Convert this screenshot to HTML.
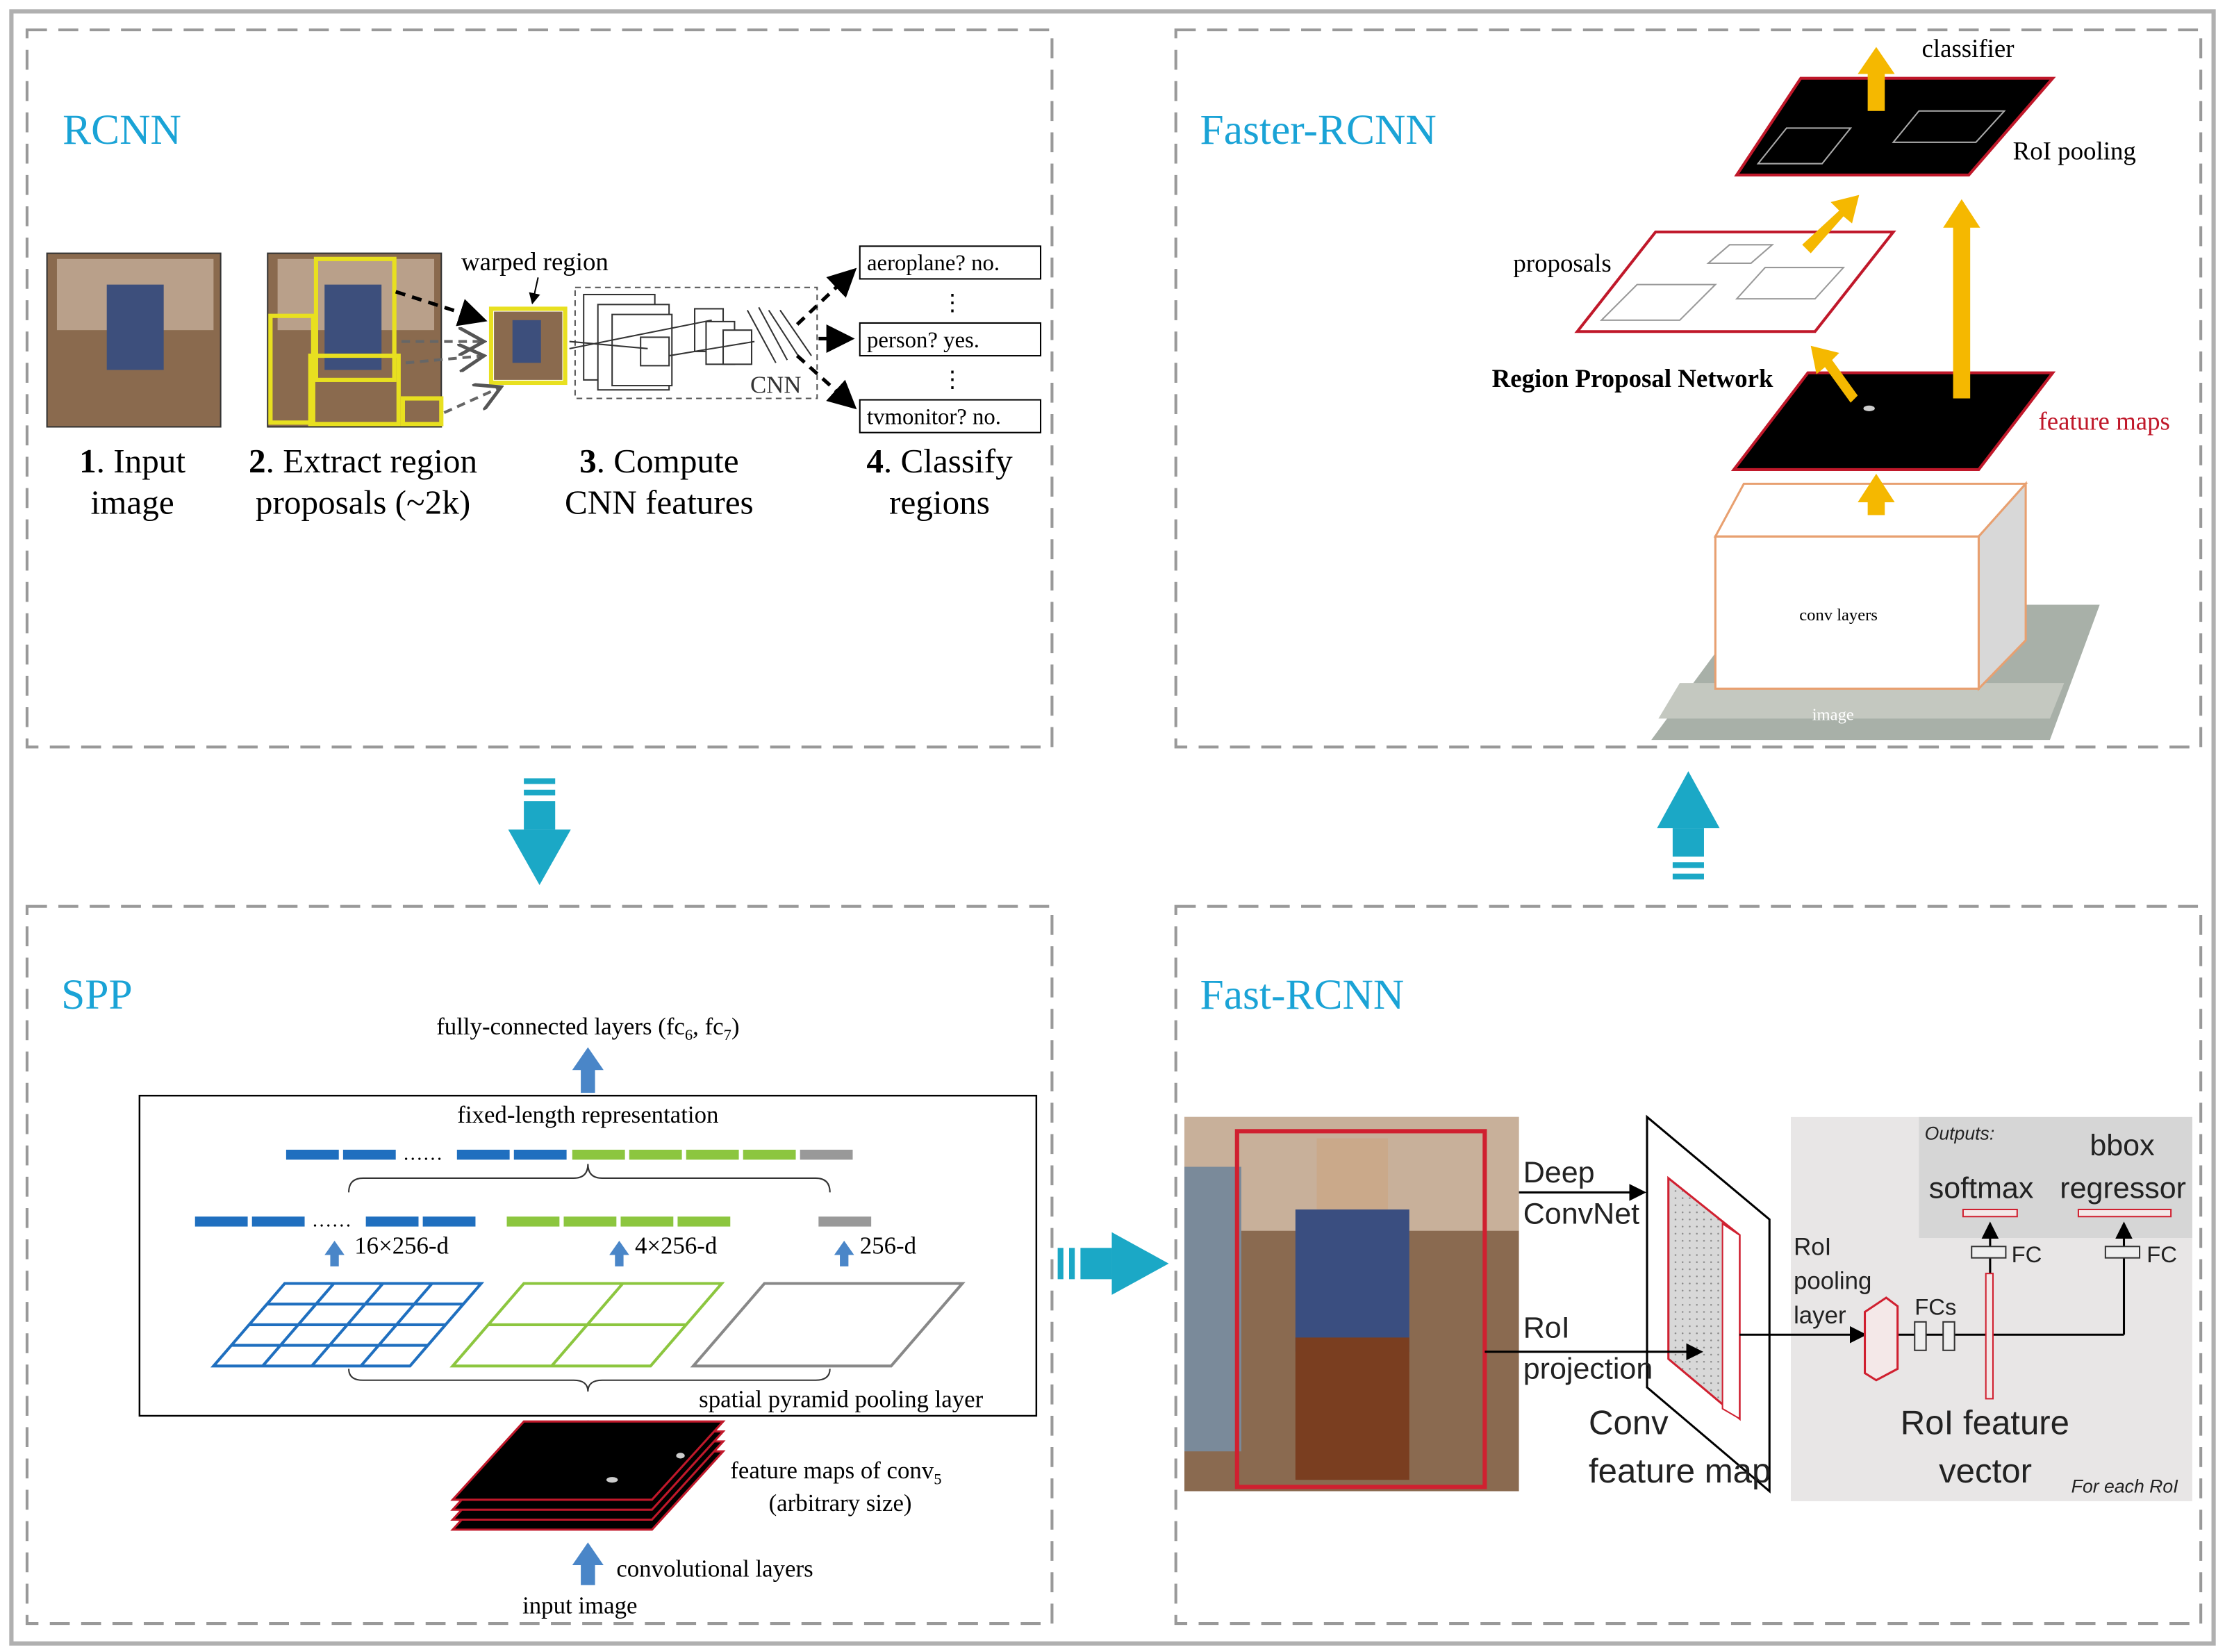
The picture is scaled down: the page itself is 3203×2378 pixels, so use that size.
<!DOCTYPE html>
<html><head><meta charset="utf-8"><style>
html,body{margin:0;padding:0;background:#fff}
svg{display:block}
text{font-family:"Liberation Serif",serif}
.s text{font-family:"Liberation Sans",sans-serif}
</style></head><body>
<svg width="3203" height="2378" viewBox="0 0 1563 1161" preserveAspectRatio="none" xmlns="http://www.w3.org/2000/svg">
<defs>
<marker id="ah" markerWidth="8" markerHeight="8" refX="7" refY="4" orient="auto"><path d="M0,0 L8,4 L0,8 z" fill="#000"/></marker>
<marker id="ao" markerWidth="10" markerHeight="10" refX="9" refY="5" orient="auto"><path d="M0,0 L9,5 L0,10" fill="none" stroke="#555" stroke-width="1.2"/></marker>
<pattern id="dots" width="5" height="5" patternUnits="userSpaceOnUse"><rect width="5" height="5" fill="#d8d8d8"/><circle cx="2" cy="2" r="0.6" fill="#888"/></pattern>
</defs>
<rect x="0" y="0" width="1563" height="1161" fill="#fff"/>
<rect x="8" y="8" width="1547" height="1147" fill="none" stroke="#b0b0b0" stroke-width="3"/>
<g fill="none" stroke="#999" stroke-width="2" stroke-dasharray="14,8">
<rect x="19" y="21" width="720" height="504"/>
<rect x="826" y="21" width="720" height="504"/>
<rect x="19" y="637" width="720" height="504"/>
<rect x="826" y="637" width="720" height="504"/>
</g>
<g fill="#1aa3d6" font-size="30">
<text x="44" y="101">RCNN</text>
<text x="843" y="101">Faster-RCNN</text>
<text x="43" y="709">SPP</text>
<text x="843" y="709">Fast-RCNN</text>
</g>
<g fill="#1ba8c6">
<rect x="368" y="547" width="22" height="4"/><rect x="368" y="555" width="22" height="4"/><rect x="368" y="563" width="22" height="20"/>
<path d="M357,583 L401,583 L379,622 z"/>
<path d="M1164,582 L1208,582 L1186,542 z"/>
<rect x="1175" y="582" width="22" height="20"/><rect x="1175" y="606" width="22" height="4"/><rect x="1175" y="614" width="22" height="4"/>
<rect x="743" y="877" width="4" height="22"/><rect x="751" y="877" width="4" height="22"/><rect x="759" y="877" width="22" height="22"/>
<path d="M781,866 L781,910 L821,888 z"/>
</g>
<!-- RCNN -->
<rect x="33" y="178" width="122" height="122" fill="#8a6a4e" stroke="#333"/>
<rect x="40" y="182" width="110" height="50" fill="#b9a08a"/>
<rect x="75" y="200" width="40" height="60" fill="#3d4f7c"/>
<rect x="188" y="178" width="122" height="122" fill="#8a6a4e" stroke="#333"/>
<rect x="195" y="182" width="110" height="50" fill="#b9a08a"/>
<rect x="228" y="200" width="40" height="60" fill="#3d4f7c"/>
<g fill="none" stroke="#e8e020" stroke-width="3">
<rect x="222" y="182" width="55" height="85"/><rect x="190" y="222" width="30" height="75"/><rect x="218" y="250" width="62" height="48"/><rect x="283" y="280" width="27" height="18"/>
<rect x="345" y="217" width="52" height="52"/>
</g>
<rect x="347" y="219" width="48" height="48" fill="#8a6a4e"/>
<rect x="360" y="225" width="20" height="30" fill="#3d4f7c"/>
<text x="324" y="190" font-size="18">warped region</text>
<line x1="378" y1="195" x2="374" y2="213" stroke="#000" marker-end="url(#ah)"/>
<g stroke="#000" stroke-width="2.5" stroke-dasharray="7,5" fill="none">
<line x1="278" y1="205" x2="340" y2="225" marker-end="url(#ah)"/>
</g>
<g stroke="#666" stroke-width="2" stroke-dasharray="6,4" fill="none">
<line x1="282" y1="240" x2="340" y2="240" marker-end="url(#ao)"/>
<line x1="285" y1="255" x2="340" y2="250" marker-end="url(#ao)"/>
<line x1="312" y1="290" x2="352" y2="272" marker-end="url(#ao)"/>
</g>
<rect x="404" y="202" width="170" height="78" fill="none" stroke="#555" stroke-dasharray="4,3"/>
<g fill="#fff" stroke="#333">
<rect x="410" y="207" width="50" height="60"/><rect x="420" y="214" width="50" height="60"/><rect x="430" y="221" width="42" height="50"/>
<rect x="450" y="237" width="20" height="20"/><rect x="488" y="217" width="20" height="30"/><rect x="496" y="226" width="20" height="30"/><rect x="508" y="232" width="20" height="24"/>
</g>
<g stroke="#333" fill="none"><path d="M525,218 L545,255 M533,216 L553,253 M540,218 L562,252 M548,218 L570,250"/>
<path d="M400,240 L455,245 M400,245 L500,225 M470,250 L530,240"/></g>
<text x="527" y="276" font-size="17" fill="#333">CNN</text>
<g stroke="#000" stroke-width="2.5" stroke-dasharray="7,5" fill="none">
<line x1="560" y1="228" x2="600" y2="190" marker-end="url(#ah)"/>
<line x1="575" y1="238" x2="598" y2="238" marker-end="url(#ah)"/>
<line x1="560" y1="250" x2="600" y2="286" marker-end="url(#ah)"/>
</g>
<g fill="#fff" stroke="#000"><rect x="604" y="173" width="127" height="23"/><rect x="604" y="227" width="127" height="23"/><rect x="604" y="281" width="127" height="23"/></g>
<g font-size="16"><text x="609" y="190">aeroplane? no.</text><text x="609" y="244">person? yes.</text><text x="609" y="298">tvmonitor? no.</text>
<text x="661" y="218">⋮</text><text x="661" y="272">⋮</text></g>
<g font-size="24" text-anchor="middle">
<text x="93" y="332"><tspan font-weight="bold">1</tspan>. Input</text><text x="93" y="361">image</text>
<text x="255" y="332"><tspan font-weight="bold">2</tspan>. Extract region</text><text x="255" y="361">proposals (~2k)</text>
<text x="463" y="332"><tspan font-weight="bold">3</tspan>. Compute</text><text x="463" y="361">CNN features</text>
<text x="660" y="332"><tspan font-weight="bold">4</tspan>. Classify</text><text x="660" y="361">regions</text>
</g>
<!-- Faster RCNN -->
<path d="M1160,520 L1440,520 L1475,425 L1230,425 z" fill="#a8b0a8"/>
<path d="M1165,505 L1440,505 L1450,480 L1180,480 z" fill="#c4c8c0"/>
<text x="1273" y="506" font-size="12" fill="#fff">image</text>
<path d="M1205,377 L1390,377 L1390,484 L1205,484 z" fill="#fff" stroke="#e8a070" stroke-width="1.5"/>
<path d="M1205,377 L1225,340 L1423,340 L1390,377 z" fill="#fff" stroke="#e8a070" stroke-width="1.5"/>
<path d="M1390,377 L1423,340 L1423,450 L1390,484 z" fill="#d8d8d8" stroke="#e8a070" stroke-width="1.5"/>
<text x="1264" y="436" font-size="12">conv layers</text>
<path d="M1218,330 L1270,262 L1442,262 L1390,330 z" fill="#000" stroke="#c0182a" stroke-width="2"/>
<ellipse cx="1313" cy="287" rx="4" ry="2" fill="#ccc"/>
<path d="M1108,233 L1163,163 L1330,163 L1275,233 z" fill="#fff" stroke="#c0182a" stroke-width="2"/>
<g fill="none" stroke="#999"><path d="M1125,225 L1150,200 L1205,200 L1180,225 z M1200,185 L1215,172 L1245,172 L1230,185 z M1220,210 L1240,188 L1295,188 L1275,210 z"/></g>
<path d="M1220,123 L1265,55 L1442,55 L1383,123 z" fill="#000" stroke="#c0182a" stroke-width="2"/>
<g fill="none" stroke="#aaa"><path d="M1235,115 L1255,90 L1300,90 L1280,115 z M1330,100 L1348,78 L1408,78 L1388,100 z"/></g>
<g fill="#f5b800">
<rect x="1312" y="50" width="12" height="28"/><path d="M1305,52 L1318,33 L1331,52 z"/>
<rect x="1372" y="158" width="12" height="122"/><path d="M1365,160 L1378,140 L1391,160 z"/>
<rect x="1312" y="352" width="12" height="10"/><path d="M1305,353 L1318,333 L1331,353 z"/>
<path d="M1266,172 L1292,148 L1286,142 L1306,137 L1301,157 L1295,152 L1272,178 z"/>
<path d="M1300,283 L1282,258 L1276,263 L1272,243 L1292,248 L1287,253 L1305,278 z"/>
</g>
<g font-size="18"><text x="1350" y="40">classifier</text><text x="1414" y="112">RoI pooling</text><text x="1063" y="191">proposals</text>
<text x="1048" y="272" font-weight="bold" font-size="18">Region Proposal Network</text><text x="1432" y="302" fill="#c0182a">feature maps</text></g>
<!-- SPP -->
<text x="413" y="727" font-size="17" text-anchor="middle">fully-connected layers (fc<tspan font-size="11" dy="4">6</tspan><tspan dy="-4">, fc</tspan><tspan font-size="11" dy="4">7</tspan><tspan dy="-4">)</tspan></text>
<g fill="#4a86c8">
<rect x="408" y="750" width="10" height="18"/><path d="M402,752 L413,736 L424,752 z"/>
<rect x="408" y="1012" width="10" height="16"/><path d="M402,1014 L413,998 L424,1014 z"/>
<rect x="408" y="1098" width="10" height="16"/><path d="M402,1100 L413,1084 L424,1100 z"/>
<rect x="232" y="880" width="6" height="10"/><path d="M228,882 L235,872 L242,882 z"/>
<rect x="432" y="880" width="6" height="10"/><path d="M428,882 L435,872 L442,882 z"/>
<rect x="590" y="880" width="6" height="10"/><path d="M586,882 L593,872 L600,882 z"/>
</g>
<rect x="98" y="770" width="630" height="225" fill="none" stroke="#000" stroke-width="1.2"/>
<text x="413" y="789" font-size="17" text-anchor="middle">fixed-length representation</text>
<g>
<rect x="201" y="808" width="37" height="7" fill="#1f6fbf"/><rect x="241" y="808" width="37" height="7" fill="#1f6fbf"/><rect x="321" y="808" width="37" height="7" fill="#1f6fbf"/><rect x="361" y="808" width="37" height="7" fill="#1f6fbf"/>
<rect x="402" y="808" width="37" height="7" fill="#8cc63f"/><rect x="442" y="808" width="37" height="7" fill="#8cc63f"/><rect x="482" y="808" width="37" height="7" fill="#8cc63f"/><rect x="522" y="808" width="37" height="7" fill="#8cc63f"/>
<rect x="562" y="808" width="37" height="7" fill="#999"/>
<text x="283" y="815" font-size="14">……</text>
<rect x="137" y="855" width="37" height="7" fill="#1f6fbf"/><rect x="177" y="855" width="37" height="7" fill="#1f6fbf"/><rect x="257" y="855" width="37" height="7" fill="#1f6fbf"/><rect x="297" y="855" width="37" height="7" fill="#1f6fbf"/>
<text x="219" y="862" font-size="14">……</text>
<rect x="356" y="855" width="37" height="7" fill="#8cc63f"/><rect x="396" y="855" width="37" height="7" fill="#8cc63f"/><rect x="436" y="855" width="37" height="7" fill="#8cc63f"/><rect x="476" y="855" width="37" height="7" fill="#8cc63f"/>
<rect x="575" y="855" width="37" height="7" fill="#999"/>
</g>
<path d="M245,838 Q245,828 255,828 L403,828 Q413,828 413,818 Q413,828 423,828 L573,828 Q583,828 583,838" fill="none" stroke="#333"/>
<g font-size="17"><text x="249" y="881">16×256-d</text><text x="446" y="881">4×256-d</text><text x="604" y="881">256-d</text></g>
<g fill="none" stroke="#1f6fbf" stroke-width="2">
<path d="M150,960 L200,902 L338,902 L288,960 z"/>
<path d="M162.5,945.5 L300.5,945.5 M175,931 L313,931 M187.5,916.5 L325.5,916.5 M184.5,960 L234.5,902 M219,960 L269,902 M253.5,960 L303.5,902"/>
</g>
<g fill="none" stroke="#8cc63f" stroke-width="2">
<path d="M318,960 L368,902 L507,902 L457,960 z"/><path d="M343,931 L482,931 M387.5,960 L437.5,902"/>
</g>
<path d="M487,960 L537,902 L676,902 L626,960 z" fill="none" stroke="#888" stroke-width="2"/>
<path d="M245,962 Q245,970 255,970 L403,970 Q413,970 413,978 Q413,970 423,970 L573,970 Q583,970 583,962" fill="none" stroke="#333"/>
<text x="491" y="989" font-size="17">spatial pyramid pooling layer</text>
<g stroke="#c0182a" stroke-width="1.5">
<path d="M318,1075 L368,1020 L508,1020 L458,1075 z" fill="#000"/>
<path d="M318,1068 L368,1013 L508,1013 L458,1068 z" fill="#000"/>
<path d="M318,1061 L368,1006 L508,1006 L458,1061 z" fill="#000"/>
<path d="M318,1054 L368,999 L508,999 L458,1054 z" fill="#000"/>
</g>
<ellipse cx="430" cy="1040" rx="4" ry="2" fill="#ccc"/><ellipse cx="478" cy="1023" rx="3" ry="2" fill="#ccc"/>
<g font-size="17"><text x="513" y="1039">feature maps of conv<tspan font-size="11" dy="4">5</tspan></text><text x="540" y="1062">(arbitrary size)</text>
<text x="433" y="1108">convolutional layers</text><text x="367" y="1134">input image</text></g>
<!-- Fast RCNN -->
<rect x="832" y="785" width="235" height="263" fill="#8a6a50"/>
<rect x="832" y="785" width="235" height="80" fill="#c8b09a"/>
<rect x="832" y="820" width="40" height="200" fill="#7a8a9a"/>
<rect x="910" y="850" width="80" height="100" fill="#3a4e80"/>
<rect x="925" y="800" width="50" height="50" fill="#caa98a"/>
<rect x="910" y="940" width="80" height="100" fill="#7a3e20"/>
<rect x="869" y="795" width="174" height="250" fill="none" stroke="#d02030" stroke-width="3"/>
<rect x="1258" y="785" width="282" height="270" fill="#e8e6e6"/>
<rect x="1348" y="785" width="192" height="85" fill="#d6d6d6"/>
<path d="M1157,785 L1243,857 L1243,1048 L1157,975 z" fill="#fff" stroke="#000" stroke-width="1.5"/>
<path d="M1172,828 L1222,868 L1222,997 L1172,955 z" fill="url(#dots)" stroke="#d02030" stroke-width="1.5"/>
<path d="M1210,860 L1222,868 L1222,997 L1210,990 z" fill="#fff" stroke="#d02030"/>
<g stroke="#000" stroke-width="1.5" fill="none">
<line x1="1067" y1="838" x2="1155" y2="838" marker-end="url(#ah)"/>
<line x1="1043" y1="950" x2="1195" y2="950" marker-end="url(#ah)"/>
<line x1="1222" y1="938" x2="1310" y2="938" marker-end="url(#ah)"/>
<line x1="1333" y1="938" x2="1492" y2="938"/>
<line x1="1492" y1="938" x2="1492" y2="860" marker-end="url(#ah)"/>
<line x1="1398" y1="900" x2="1398" y2="860" marker-end="url(#ah)"/>
</g>
<path d="M1310,922 L1325,912 L1333,918 L1333,962 L1318,970 L1310,965 z" fill="#f4e8e8" stroke="#d02030" stroke-width="1.5"/>
<g fill="#eee" stroke="#333"><rect x="1345" y="929" width="8" height="20"/><rect x="1365" y="929" width="8" height="20"/><rect x="1385" y="876" width="24" height="8"/><rect x="1479" y="876" width="24" height="8"/></g>
<rect x="1395" y="895" width="5" height="88" fill="#f4e8e8" stroke="#d02030"/>
<rect x="1379" y="850" width="38" height="5" fill="#f4e8e8" stroke="#d02030"/>
<rect x="1460" y="850" width="65" height="5" fill="#f4e8e8" stroke="#d02030"/>
<g class="s" fill="#222">
<text x="1070" y="831" font-size="21">Deep</text><text x="1070" y="860" font-size="21">ConvNet</text>
<text x="1070" y="940" font-size="21">RoI</text><text x="1070" y="969" font-size="21">projection</text>
<text x="1116" y="1008" font-size="24">Conv</text><text x="1116" y="1042" font-size="24">feature map</text>
<text x="1260" y="882" font-size="17">RoI</text><text x="1260" y="906" font-size="17">pooling</text><text x="1260" y="930" font-size="17">layer</text>
<text x="1345" y="924" font-size="16">FCs</text><text x="1413" y="887" font-size="16">FC</text><text x="1508" y="887" font-size="16">FC</text>
<text x="1352" y="801" font-size="13" font-style="italic">Outputs:</text>
<text x="1468" y="812" font-size="21">bbox</text><text x="1355" y="842" font-size="21">softmax</text><text x="1447" y="842" font-size="21">regressor</text>
<text x="1335" y="1008" font-size="24">RoI feature</text><text x="1362" y="1042" font-size="24">vector</text>
<text x="1455" y="1049" font-size="13" font-style="italic">For each RoI</text>
</g>
</svg>
</body></html>
